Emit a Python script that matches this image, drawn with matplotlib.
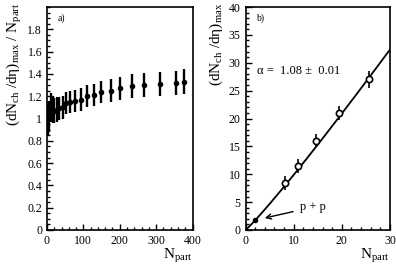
import matplotlib
matplotlib.use('Agg')
import matplotlib.pyplot as plt
import numpy as np
from matplotlib.ticker import MultipleLocator

plt.rcParams['font.family'] = ['Liberation Serif', 'DejaVu Serif']
plt.rcParams['mathtext.fontset'] = 'custom'
plt.rcParams['mathtext.rm'] = 'Liberation Serif'
plt.rcParams['mathtext.it'] = 'Liberation Serif:italic'

#----panel a) data----
npart_a = [3, 6, 11, 16, 20, 27, 34, 43, 52, 64, 78, 94, 110, 129, 149, 175, 201, 233, 268, 310, 354, 377]
ratio_a = [1.00, 1.02, 1.10, 1.08, 1.07, 1.08, 1.09, 1.10, 1.14, 1.15, 1.16, 1.17, 1.20, 1.21, 1.24, 1.25,
           1.27, 1.29, 1.30, 1.31, 1.32, 1.33]
err_a = [0.15, 0.14, 0.13, 0.12, 0.11, 0.11, 0.10, 0.10, 0.10, 0.10, 0.10, 0.10, 0.10, 0.10, 0.10, 0.10,
         0.10, 0.11, 0.11, 0.11, 0.11, 0.11]

#----panel b) data----
npart_b = [8.2, 11.0, 14.6, 19.5, 25.6]
mult_b = [8.4, 11.5, 16.0, 21.0, 27.0]
err_b = [1.2, 1.2, 1.2, 1.3, 1.5]
npart_pp = [2.0]
mult_pp = [1.75]
fit_c = 0.822
fit_alpha = 1.08

fig = plt.figure(figsize=(3.96, 2.68), dpi=100)
ax1 = fig.add_axes([47/396, 38/268, 145.5/396, 223/268])
ax2 = fig.add_axes([245.5/396, 38/268, 144.5/396, 223/268])

ax1.errorbar(npart_a, ratio_a, yerr=err_a, fmt='o', color='black', ms=3, elinewidth=1.7, capsize=0)
ax1.set_xlim(0, 400)
ax1.set_ylim(0, 2.0)
ax1.xaxis.set_major_locator(MultipleLocator(100))
ax1.xaxis.set_minor_locator(MultipleLocator(20))
ax1.yaxis.set_minor_locator(MultipleLocator(0.05))
ax1.set_yticks([0, 0.2, 0.4, 0.6, 0.8, 1, 1.2, 1.4, 1.6, 1.8])
ax1.set_yticklabels(['0', '0.2', '0.4', '0.6', '0.8', '1', '1.2', '1.4', '1.6', '1.8'])
ax1.text(0.075, 0.95, 'a)', transform=ax1.transAxes, fontsize=7, va='center')
ax1.set_ylabel('(dN$_{\\rm ch}$ /dη)$_{\\rm max}$ / N$_{\\rm part}$', fontsize=11)
ax1.yaxis.set_label_coords(-0.16, 1.02)
ax1.yaxis.label.set_ha('right')
ax1.yaxis.label.set_va('bottom')

ax2.errorbar(npart_b, mult_b, yerr=err_b, fmt='o', color='black', mfc='white', ms=4.5, mew=1.2,
             elinewidth=1.2, capsize=0)
ax2.plot(npart_pp, mult_pp, 'o', color='black', ms=3)
xfit = np.linspace(0, 30, 200)
ax2.plot(xfit, fit_c * xfit**fit_alpha, color='black', lw=1.3)
ax2.set_xlim(0, 30)
ax2.set_ylim(0, 40)
ax2.xaxis.set_major_locator(MultipleLocator(10))
ax2.xaxis.set_minor_locator(MultipleLocator(2))
ax2.yaxis.set_major_locator(MultipleLocator(5))
ax2.yaxis.set_minor_locator(MultipleLocator(1))
ax2.text(0.075, 0.95, 'b)', transform=ax2.transAxes, fontsize=7, va='center')
ax2.text(2.3, 28.5, 'α =  1.08 ±  0.01', fontsize=9, va='center')
ax2.annotate('p + p', xy=(4.0, 2.15), xytext=(11.3, 4.1), fontsize=9, va='center',
             arrowprops=dict(arrowstyle='->', color='black', lw=1.0, shrinkA=3, shrinkB=0))
ax2.set_ylabel('(dN$_{\\rm ch}$ /dη)$_{\\rm max}$', fontsize=11)
ax2.yaxis.set_label_coords(-0.14, 1.02)
ax2.yaxis.label.set_ha('right')
ax2.yaxis.label.set_va('bottom')

for ax in (ax1, ax2):
    ax.tick_params(which='both', direction='in', top=False, right=False, labelsize=8.5, width=1.0)
    ax.tick_params(which='major', length=4)
    ax.tick_params(which='minor', length=2)
    for s in ax.spines.values():
        s.set_linewidth(1.2)
    ax.set_xlabel('N$_{\\rm part}$', fontsize=11)
    ax.xaxis.set_label_coords(1.0, -0.075)
    ax.xaxis.label.set_ha('right')
    ax.xaxis.label.set_va('top')

fig.savefig('out.png', dpi=100)
